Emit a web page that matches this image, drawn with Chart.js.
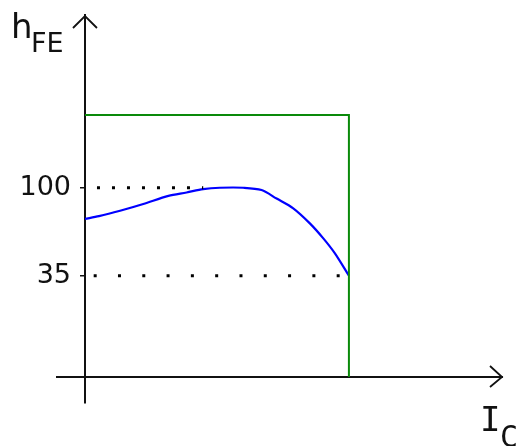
<!DOCTYPE html>
<html>
<head>
<meta charset="utf-8">
<script src="https://cdn.jsdelivr.net/npm/chart.js@4/dist/chart.umd.min.js"></script>
<style>
  html, body { margin: 0; padding: 0; background: #fff; }
  #wrap { width: 518px; height: 446px; }
</style>
</head>
<body>
<div id="wrap"><canvas id="myChart"></canvas></div>
<script>
// hFE curve (Ic in % of the max, green edge = 100)
var ic  = [0, 5.3, 13.3, 22.1, 31.6, 38.5, 44.8, 51.1, 60, 66.9, 72.6, 78.9, 85.2, 90.3, 94.7, 100]
var hfe = [77, 79, 83, 88, 94, 96.5, 99, 100, 100, 98.3, 92, 84.8, 73.7, 62.6, 51.5, 35]

// safe operating box (green)
var boxX = [0, 100, 100]
var boxY = [153.7, 153.7, -39.8]

// dotted guides
var guide100X = [0, 44.8]
var guide100Y = [100, 100]
var guide35X = [0, 100]
var guide35Y = [35, 35]

var yTicks = [35, 100]
var yAxisAt = 0      // y axis crosses at Ic = 0
var xAxisAt = -39.8  // x axis crosses here

function pts(xs, ys) {
    var out = []
    for (var i = 0; i < xs.length; i++) out.push({x: xs[i], y: ys[i]})
    return out
}

// arrows + axis names
var extras = {
    id: 'extras',
    afterDraw: function(chart) {
        var ctx = chart.ctx
        var a = chart.chartArea
        var xs = chart.scales.x, ys = chart.scales.y
        var x0 = xs.getPixelForValue(yAxisAt)
        var y0 = ys.getPixelForValue(xAxisAt)
        ctx.save()
        ctx.strokeStyle = '#111'
        ctx.lineWidth = 1.8
        ctx.beginPath()
        ctx.moveTo(x0 - 12, a.top + 13); ctx.lineTo(x0, a.top + 1); ctx.lineTo(x0 + 12, a.top + 13)
        ctx.moveTo(a.right - 12, y0 - 11); ctx.lineTo(a.right, y0); ctx.lineTo(a.right - 12, y0 + 10)
        ctx.stroke()

        ctx.fillStyle = '#111'
        ctx.textBaseline = 'alphabetic'
        ctx.textAlign = 'left'
        ctx.font = '34px "DejaVu Sans"'
        ctx.fillText('h', 11, 38)
        ctx.font = '27px "DejaVu Sans"'
        ctx.fillText('FE', 31, 52)
        ctx.font = '34px "DejaVu Sans Mono"'
        ctx.fillText('I', 480, 431)
        ctx.font = '30px "DejaVu Sans Mono"'
        ctx.fillText('C', 500, 447)
        ctx.restore()
    }
}

var chart = new Chart(document.getElementById('myChart').getContext('2d'), {
    type: 'line',
    data: {
        datasets: [
            {
                data: pts(boxX, boxY),
                borderColor: '#0a8a0a',
                borderWidth: 2,
                pointRadius: 0,
                fill: false
            },
            {
                data: pts(guide100X, guide100Y),
                borderColor: '#000',
                borderWidth: 3,
                borderDash: [3, 12],
                borderDashOffset: 3,
                pointRadius: 0
            },
            {
                data: pts(guide35X, guide35Y),
                borderColor: '#000',
                borderWidth: 3,
                borderDash: [3, 21.3],
                borderDashOffset: 15.6,
                pointRadius: 0
            },
            {
                data: pts(ic, hfe),
                borderColor: '#0000ff',
                borderWidth: 2.2,
                pointRadius: 0,
                tension: 0.3
            }
        ]
    },
    options: {
        responsive: true,
        maintainAspectRatio: false,
        animation: false,
        layout: { padding: { left: 57, right: 16, top: 15, bottom: 43 } },
        plugins: { legend: { display: false }, tooltip: { enabled: false } },
        scales: {
            x: {
                type: 'linear',
                min: -10.6,
                max: 158,
                position: { y: xAxisAt },
                grid: { display: false },
                border: { display: true, color: '#111', width: 2 },
                ticks: { display: false }
            },
            y: {
                type: 'linear',
                min: -59,
                max: 227.6,
                position: { x: yAxisAt },
                afterBuildTicks: function(scale) {
                    scale.ticks = yTicks.map(function(v) { return {value: v} })
                },
                grid: { drawOnChartArea: false, drawTicks: true, tickLength: 4, color: '#111', lineWidth: 1.5 },
                border: { display: true, color: '#111', width: 2 },
                ticks: {
                    color: '#111',
                    padding: 0,
                    font: { family: 'DejaVu Sans', size: 27, lineHeight: 0.5 },
                    // label sits right against the axis line, keep a gap
                    callback: function(v) { return String(v) + ' \u2009' }
                }
            }
        }
    },
    plugins: [extras]
})
</script>
</body>
</html>
